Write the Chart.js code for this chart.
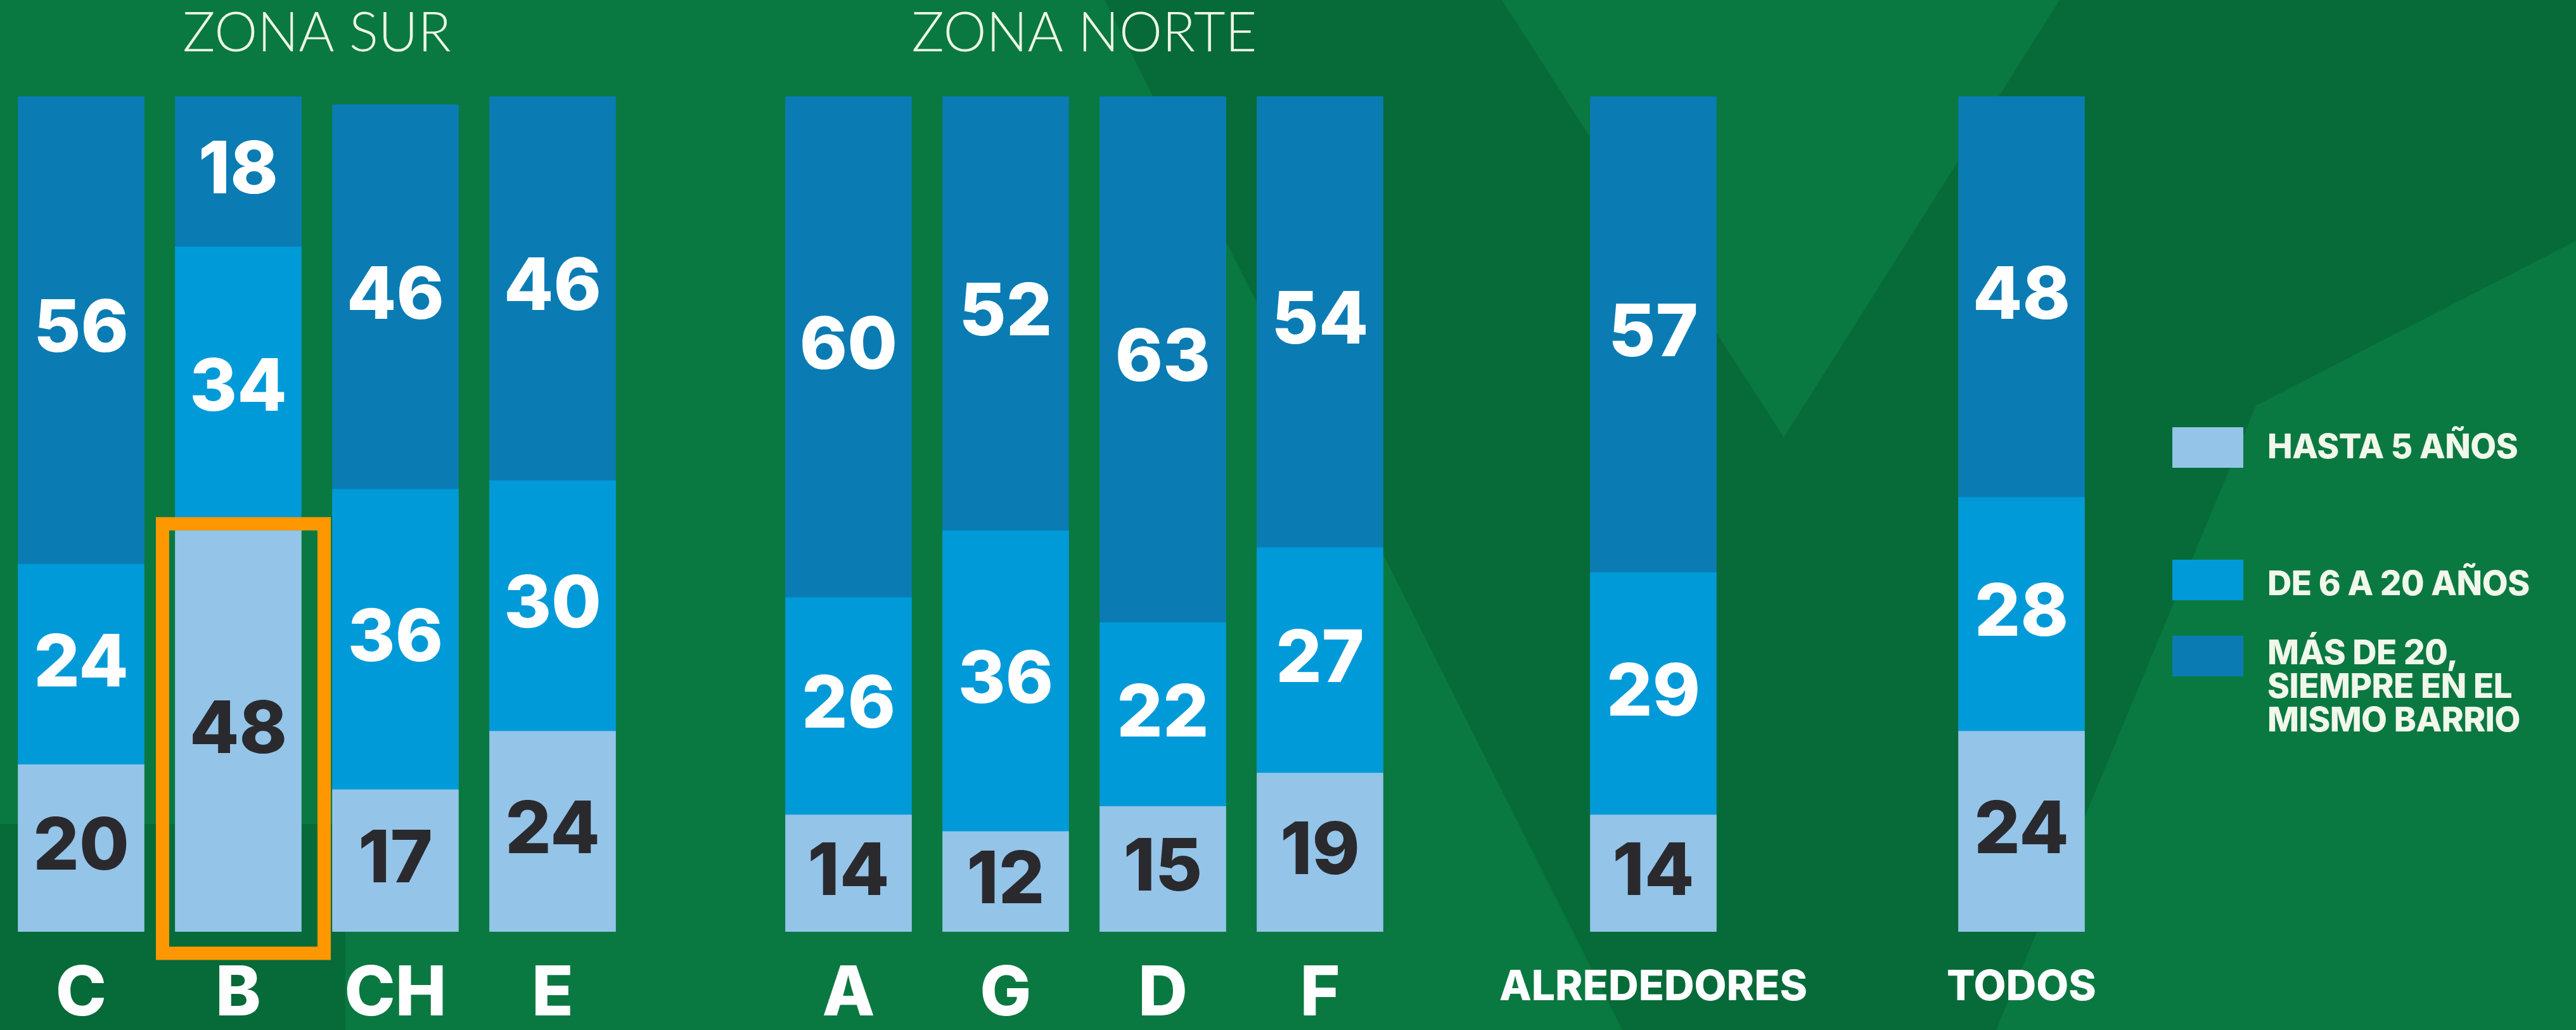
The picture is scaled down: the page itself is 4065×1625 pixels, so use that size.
<!DOCTYPE html>
<html>
<head>
<meta charset="utf-8">
<script src="https://cdn.jsdelivr.net/npm/chart.js@4.4.1/dist/chart.umd.min.js"></script>
<style>
  html, body { margin:0; padding:0; width:4065px; height:1625px; overflow:hidden; background:#0a7941; }
  #bg { position:absolute; left:0; top:0; }
  .panel { position:absolute; top:0; }
  #legend { position:absolute; left:0; top:0; font-family:Inter, Lato, sans-serif; font-weight:800; color:#f1f7ea; }
  .sw { position:absolute; width:112px; height:64px; }
  .lt { position:absolute; font-size:53px; line-height:53px; white-space:nowrap; letter-spacing:-0.5px; }
</style>
</head>
<body>
<svg id="bg" width="4065" height="1625" xmlns="http://www.w3.org/2000/svg">
  <rect x="0" y="0" width="4065" height="1625" fill="#0a7941"/>
  <polygon points="1743,0 2370,0 2815,690 3250,0 4065,0 4065,380 3560,640 3150,1625 2560,1625" fill="#076b39"/>
  <polygon points="0,1300 545,1300 545,1625 0,1625" fill="#076b39"/>
</svg>
<div id="charts"></div>
<div id="legend"></div>
<script>
// ---- data ----
const categories = ['C', 'B', 'CH', 'E', 'A', 'G', 'D', 'F', 'ALREDEDORES', 'TODOS'];
const hasta5  = [20, 48, 17, 24, 14, 12, 15, 19, 14, 24];
const de6a20  = [24, 34, 36, 30, 26, 36, 22, 27, 29, 28];
const mas20   = [56, 18, 46, 46, 60, 52, 63, 54, 57, 48];
const seriesLabels = [
  ['HASTA 5 AÑOS'],
  ['DE 6 A 20 AÑOS'],
  ['MÁS DE 20,', 'SIEMPRE EN EL', 'MISMO BARRIO']
];
const groupTitles = ['ZONA SUR', 'ZONA NORTE', '', ''];
const groupSizes  = [4, 4, 1, 1];
const highlighted = 'B';

// ---- styling / layout ----
const heavy = 'Inter, Lato, sans-serif';
const seriesColors = ['#94c4e8', '#009ad9', '#0a7cb3'];
const valueColors  = ['#2a2a2e', '#ffffff', '#ffffff'];
const panels = [
  { left: 4,    width: 992, tickSize: 108, tickPad: 46 },
  { left: 1215, width: 992, tickSize: 108, tickPad: 46 },
  { left: 2309, width: 600, tickSize: 66,  tickPad: 55 },
  { left: 2990, width: 400, tickSize: 66,  tickPad: 55 }
];
const H = 1625;

const valueLabels = {
  id: 'valueLabels',
  afterDatasetsDraw(chart) {
    const ctx = chart.ctx;
    chart.data.datasets.forEach((ds, i) => {
      const meta = chart.getDatasetMeta(i);
      meta.data.forEach((bar, j) => {
        const v = ds.data[j];
        if (v == null) return;
        ctx.save();
        ctx.font = '800 114px ' + heavy;
        ctx.fillStyle = valueColors[i];
        ctx.textAlign = 'center';
        ctx.textBaseline = 'middle';
        ctx.fillText(String(v), bar.x, (bar.y + bar.base) / 2);
        ctx.restore();
      });
    });
  }
};

const highlightBox = {
  id: 'highlightBox',
  afterDatasetsDraw(chart) {
    const idx = chart.data.labels.indexOf(highlighted);
    if (idx < 0) return;
    const el = chart.getDatasetMeta(0).data[idx];
    const ctx = chart.ctx;
    const l = el.x - el.width / 2 - 20, r = el.x + el.width / 2 + 36;
    const t = el.y - 11, b = el.base + 34;
    ctx.save();
    ctx.strokeStyle = '#ff9700';
    ctx.lineWidth = 21;
    ctx.strokeRect(l, t, r - l, b - t);
    ctx.restore();
  }
};

let start = 0;
groupSizes.forEach((size, g) => {
  const end = start + size;
  const p = panels[g];
  const canvas = document.createElement('canvas');
  canvas.className = 'panel';
  canvas.width = p.width; canvas.height = H;
  canvas.style.left = p.left + 'px';
  canvas.style.width = p.width + 'px';
  canvas.style.height = H + 'px';
  document.getElementById('charts').appendChild(canvas);
  const series = [hasta5, de6a20, mas20];
  new Chart(canvas, {
    type: 'bar',
    data: {
      labels: categories.slice(start, end),
      datasets: series.map((arr, i) => ({
        label: seriesLabels[i].join(' '),
        data: arr.slice(start, end),
        backgroundColor: seriesColors[i],
        borderWidth: 0,
        barThickness: 199
      }))
    },
    options: {
      responsive: false,
      animation: false,
      events: [],
      layout: { padding: 0 },
      plugins: {
        legend: { display: false },
        tooltip: { enabled: false },
        title: {
          display: true,
          text: groupTitles[g],
          color: '#eef6e4',
          font: { family: 'Lato', weight: '300', size: 86, lineHeight: 1 },
          padding: { top: 10, bottom: 56 }
        }
      },
      scales: {
        x: {
          stacked: true,
          grid: { display: false, drawTicks: false },
          border: { display: false },
          ticks: {
            color: '#ffffff',
            font: { family: heavy, weight: '800', size: p.tickSize, lineHeight: 1 },
            padding: p.tickPad,
            autoSkip: false,
            maxRotation: 0
          },
          afterFit: (s) => { s.height = 155; }
        },
        y: { stacked: true, display: false, min: 0, max: 100 }
      }
    },
    plugins: [valueLabels, highlightBox]
  });
  start = end;
});

// ---- legend (HTML) ----
const legend = document.getElementById('legend');
const boxTops = [674, 883, 1003];
const textTops = [678, 894, 1003];
seriesLabels.forEach((lines, i) => {
  const sw = document.createElement('div');
  sw.className = 'sw';
  sw.style.left = '3428px';
  sw.style.top = boxTops[i] + 'px';
  sw.style.background = seriesColors[i];
  legend.appendChild(sw);
  const t = document.createElement('div');
  t.className = 'lt';
  t.style.left = '3578px';
  t.style.top = textTops[i] + 'px';
  t.innerHTML = lines.join('<br>');
  legend.appendChild(t);
});
</script>
</body>
</html>
